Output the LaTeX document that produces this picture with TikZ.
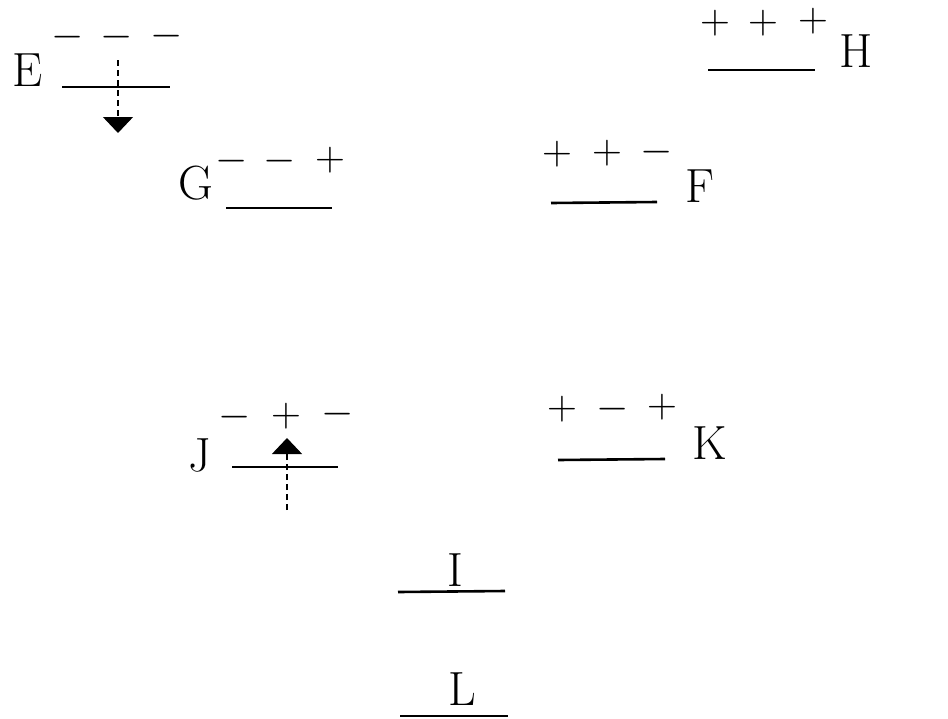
\documentclass[tikz,border=0pt]{standalone}
\usetikzlibrary{arrows.meta}
\begin{document}
\begin{tikzpicture}[x=0.5pt,y=-0.5pt,
  level/.style={line width=1.3pt},
  lbl/.style={font=\fontsize{24}{28}\selectfont,inner sep=0pt},
  sgn/.style={font=\fontsize{21}{24}\selectfont,inner sep=0pt},
  spin/.style={densely dashed,line width=0.6pt,-{Triangle[width=15pt,length=8pt]}}]
\useasboundingbox (0,0) rectangle (948,718);
% level E
\node[lbl] (E) at (28,70) {E};
\coordinate (E1) at (62,87); \coordinate (E2) at (170,87);
\draw[level] (E1) -- (E2);
\node[sgn] (Ea) at (68,37) {$-$};
\node[sgn] (Eb) at (117,37) {$-$};
\node[sgn] (Ec) at (167,36) {$-$};
\coordinate (Etop) at (118,60); \coordinate (Etip) at (118,133);
\draw[spin] (Etop) -- (Etip);
% level H
\node[lbl] (H) at (856,51) {H};
\coordinate (H1) at (708,70); \coordinate (H2) at (815,70);
\draw[level] (H1) -- (H2);
\node[sgn] (Ha) at (715,23) {$+$};
\node[sgn] (Hb) at (763,23) {$+$};
\node[sgn] (Hc) at (813,21) {$+$};
% level G
\node[lbl] (G) at (196,183) {G};
\coordinate (G1) at (226,208); \coordinate (G2) at (332,208);
\draw[level] (G1) -- (G2);
\node[sgn] (Ga) at (232,161) {$-$};
\node[sgn] (Gb) at (280,161) {$-$};
\node[sgn] (Gc) at (330,160) {$+$};
% level F
\node[lbl] (F) at (700,186) {F};
\coordinate (F1) at (551,203); \coordinate (F2) at (657,202);
\draw[level] (F1) -- (F2);
\node[sgn] (Fa) at (557,154) {$+$};
\node[sgn] (Fb) at (607,153) {$+$};
\node[sgn] (Fc) at (657,152) {$-$};
% level J
\node[lbl] (J) at (200,455) {J};
\coordinate (J1) at (232,467); \coordinate (J2) at (338,467);
\draw[level] (J1) -- (J2);
\node[sgn] (Ja) at (235,417) {$-$};
\node[sgn] (Jb) at (286,416) {$+$};
\node[sgn] (Jc) at (338,414) {$-$};
\coordinate (Jbot) at (287,510); \coordinate (Jtip) at (287,438);
\draw[spin] (Jbot) -- (Jtip);
% level K
\node[lbl] (K) at (710,443) {K};
\coordinate (K1) at (558,460); \coordinate (K2) at (665,459);
\draw[level] (K1) -- (K2);
\node[sgn] (Ka) at (562,409) {$+$};
\node[sgn] (Kb) at (613,409) {$-$};
\node[sgn] (Kc) at (662,407) {$+$};
% levels I and L
\node[lbl] (I) at (455,570) {I};
\coordinate (I1) at (398,592); \coordinate (I2) at (505,591);
\draw[level] (I1) -- (I2);
\node[lbl] (L) at (462,689) {L};
\coordinate (L1) at (400,716); \coordinate (L2) at (508,716);
\draw[level] (L1) -- (L2);
\end{tikzpicture}
\end{document}
